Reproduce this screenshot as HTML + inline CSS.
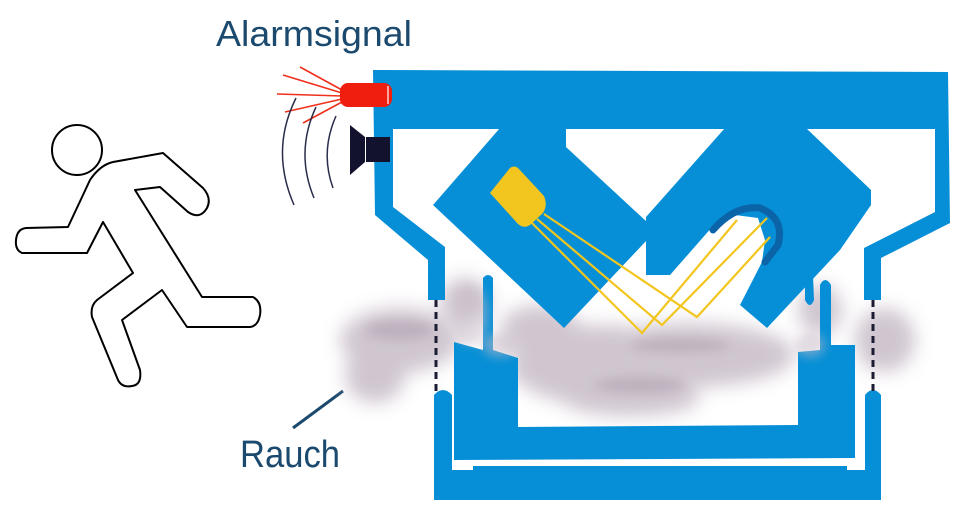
<!DOCTYPE html>
<html><head><meta charset="utf-8"><style>
html,body{margin:0;padding:0;background:#fff;}
svg{display:block;}
</style></head><body>
<svg width="969" height="521" viewBox="0 0 969 521" xmlns="http://www.w3.org/2000/svg">
<defs>
<filter id="bl" x="-30%" y="-30%" width="160%" height="160%"><feGaussianBlur stdDeviation="9"/></filter>
<filter id="bl2" x="-30%" y="-30%" width="160%" height="160%"><feGaussianBlur stdDeviation="5"/></filter>
</defs>
<text x="216" y="46" font-family="Liberation Sans, sans-serif" font-size="36" fill="#1b4a6e" textLength="196" lengthAdjust="spacingAndGlyphs">Alarmsignal</text>
<text x="240" y="467" font-family="Liberation Sans, sans-serif" font-size="38" fill="#1b4a6e" textLength="100" lengthAdjust="spacingAndGlyphs">Rauch</text>
<line x1="293" y1="428" x2="343" y2="391" stroke="#1b4a6e" stroke-width="3"/>

<!-- running man -->
<circle cx="77" cy="150" r="25" fill="#fff" stroke="#000" stroke-width="2"/>
<path d="M68,227 L90,180 Q100,165 113,162 L163,153 L203,188 Q212,198 207,208 Q200,220 188,212 L160,187 L135,190 L202,297 L253,297 Q262,302 260,315 Q258,326 250,327 L187,327 L162,290 L122,320 L140,370 Q142,385 132,386 Q122,388 118,380 L92,317 Q90,306 97,300 L133,273 L103,222 L87,253 L22,253 Q15,250 16,240 Q17,229 26,228 Z" fill="#fff" stroke="#000" stroke-width="2" stroke-linejoin="round"/>

<!-- alarm rays -->
<g stroke="#f0301c" stroke-width="1.6">
<line x1="342" y1="93" x2="283" y2="75"/>
<line x1="342" y1="90" x2="300" y2="67"/>
<line x1="342" y1="96" x2="277" y2="94"/>
<line x1="342" y1="99" x2="285" y2="112"/>
<line x1="342" y1="102" x2="303" y2="123"/>
</g>
<g fill="none" stroke="#2a2d4a" stroke-width="1.5">
<path d="M296,98 Q270,150 294,205"/>
<path d="M316,107 Q295,152 314,198"/>
<path d="M336,116 Q320,152 333,188"/>
</g>

<!-- smoke -->
<g fill="#c4b8c4" filter="url(#bl)" opacity="0.8">
<ellipse cx="400" cy="340" rx="60" ry="32"/>
<ellipse cx="375" cy="375" rx="30" ry="28"/>
<ellipse cx="465" cy="300" rx="25" ry="22"/>
<ellipse cx="600" cy="365" rx="90" ry="40"/>
<ellipse cx="690" cy="355" rx="105" ry="32"/>
<ellipse cx="630" cy="398" rx="70" ry="18"/>
<ellipse cx="820" cy="310" rx="22" ry="25"/>
<ellipse cx="885" cy="340" rx="30" ry="32"/>
<ellipse cx="540" cy="330" rx="40" ry="25"/>
</g>
<g fill="#a898a8" filter="url(#bl2)" opacity="0.45">
<ellipse cx="680" cy="345" rx="50" ry="7"/>
<ellipse cx="640" cy="385" rx="45" ry="8"/>
<ellipse cx="400" cy="330" rx="35" ry="10"/>
</g>

<!-- blue frame -->
<g fill="#068fd6">
<path d="M373,70 L948,72 L950,223 L881,258 L881,300 L864,300 L864,248 L935,212 L935,129 L393,129 L393,207 L445,247 L445,300 L428,300 L428,260 L375,215 Z"/>
<path d="M500,128 L433,205 L564,328 L647,240 L647,222 L566,147 L566,128 Z"/>
<path d="M725,128 L646,217 L646,275 L670,275 L713,226 L735,215 L758,218 L765,240 L762,262 L740,305 L767,328 L840,250 L871,205 L871,190 L806,128 Z"/>
<path d="M820,350 L820,285 Q825,275 831,285 L831,350 Z"/>
<path d="M805,260 L812,250 L814,300 Q810,310 805,300 Z"/>
<path d="M434,395 Q443,385 452,395 L452,500 L434,500 Z"/>
<path d="M865,395 Q873,385 881,395 L881,500 L865,500 Z"/>
<rect x="434" y="470" width="447" height="30"/>
<path d="M483,350 L483,278 Q488,272 493,278 L493,350 L518,358 L518,427 L798,425 L798,352 L820,350 L820,300 L831,300 L831,345 L855,345 L855,458 L454,460 L454,342 Z"/>
</g>
<rect x="452" y="460" width="413" height="6" fill="#fff"/>
<rect x="473" y="466" width="374" height="6" fill="#068fd6"/>
<line x1="436" y1="300" x2="436" y2="392" stroke="#1c1c34" stroke-width="3" stroke-dasharray="7,5"/>
<line x1="873" y1="300" x2="873" y2="392" stroke="#1c1c34" stroke-width="3" stroke-dasharray="7,5"/>

<g fill="#c8bcc8" filter="url(#bl2)" opacity="0.5">
<ellipse cx="470" cy="315" rx="18" ry="30"/>
<ellipse cx="500" cy="345" rx="18" ry="12"/>
<ellipse cx="810" cy="345" rx="15" ry="12"/>
</g>

<rect x="340" y="83" width="52" height="24" rx="8" fill="#f01e0e"/>
<line x1="388" y1="86" x2="388" y2="104" stroke="#fff" stroke-width="1.2"/>
<path d="M350,125 L365,137 L365,162 L350,175 Z" fill="#12122e"/>
<rect x="366" y="137" width="24" height="25" fill="#12122e"/>

<path d="M490,193 L510,168 Q514,165 518,168 L544,196 Q548,205 543,213 L530,225 Q524,229 518,224 Z" fill="#f2c61f"/>
<g stroke="#f2c61f" stroke-width="2.2" fill="none">
<polyline points="531,222 642,333 737,220"/>
<polyline points="537,219 662,325 767,218"/>
<polyline points="544,214 697,317 770,237"/>
</g>
<path d="M713,230 Q735,205 760,208 Q785,218 778,245 L765,262" fill="none" stroke="#0b63a8" stroke-width="7" stroke-linecap="round"/>
</svg>
</body></html>
